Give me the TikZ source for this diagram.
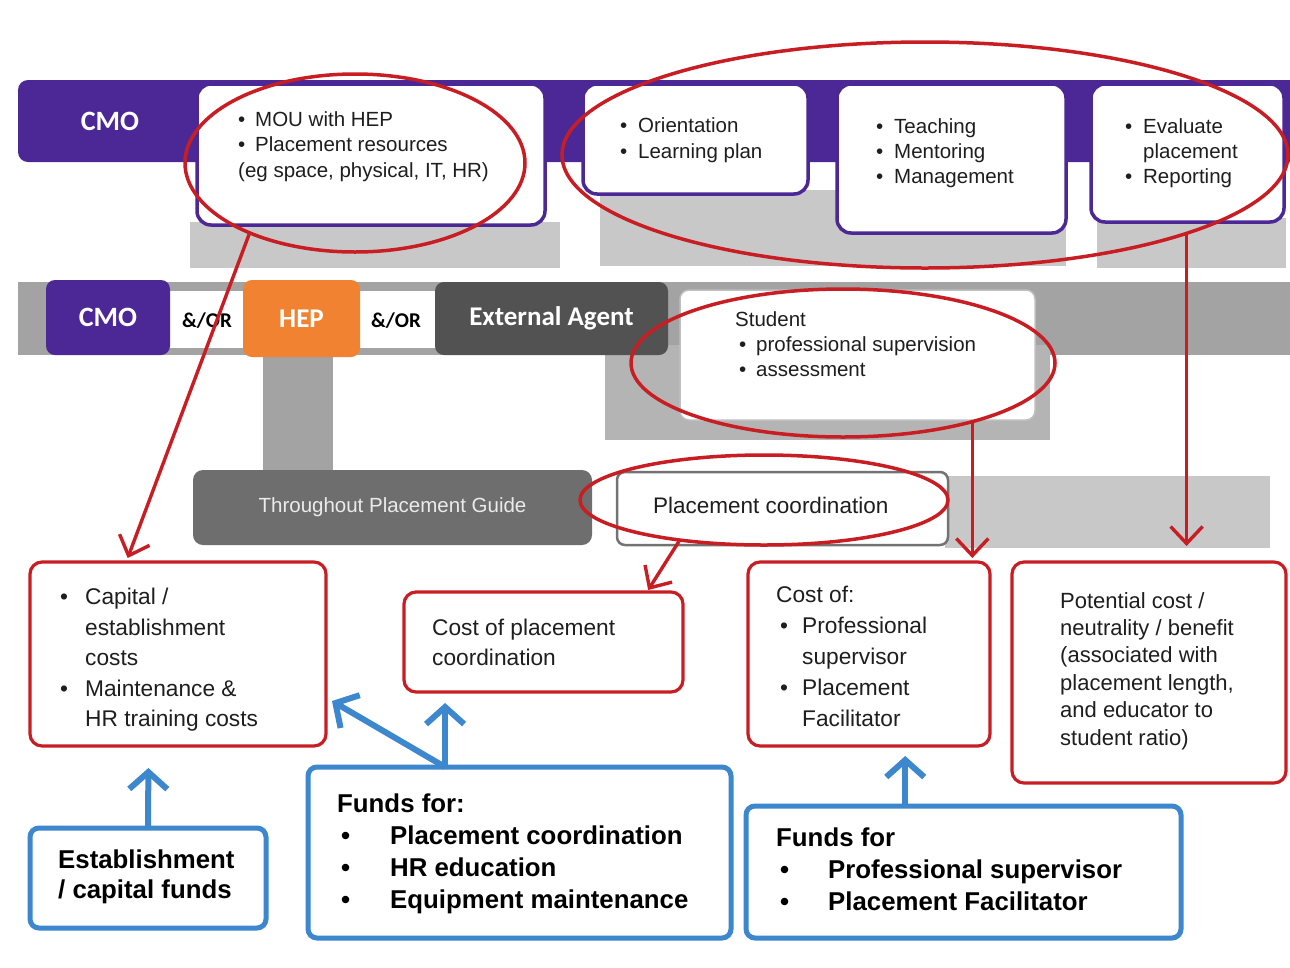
\documentclass[tikz,border=0pt]{standalone}
\usepackage{fontspec}
\setmainfont{Liberation Sans}
\newfontfamily\calfont{Carlito}
\usetikzlibrary{shapes.geometric,arrows.meta,calc}

\definecolor{cmopurple}{RGB}{76,40,150}
\definecolor{heporange}{RGB}{240,130,50}
\definecolor{agentgray}{RGB}{82,82,82}
\definecolor{guidegray}{RGB}{110,110,110}
\definecolor{bandgray}{RGB}{163,163,163}
\definecolor{shadegray}{RGB}{200,200,200}
\definecolor{deepshade}{RGB}{180,180,180}
\definecolor{ringred}{RGB}{200,30,35}
\definecolor{fundblue}{RGB}{60,135,205}
\definecolor{inkgray}{RGB}{30,30,30}

\newcommand\fsz[2]{\fontsize{#1}{#2}\selectfont}
\newcommand\bul[1]{\makebox[#1][l]{\textbullet}}

\begin{document}
\begin{tikzpicture}[x=1pt,y=-1pt,
  block/.style={anchor=north west,inner sep=0pt,outer sep=0pt},
  cmobox/.style={block,fill=cmopurple,rounded corners=9pt,text=white,font=\calfont\bfseries\fsz{28}{28}},
  hepbox/.style={block,fill=heporange,rounded corners=9pt,text=white,font=\calfont\bfseries\fsz{27}{27}},
  agentbox/.style={block,fill=agentgray,rounded corners=9pt,text=white,font=\calfont\bfseries\fsz{27}{27}},
  guidebox/.style={block,fill=guidegray,rounded corners=10pt,text=black!8,font=\fsz{20.5}{20.5}},
  topbox/.style={block,draw=cmopurple,line width=3.5pt,fill=white,rounded corners=14pt},
  plainbox/.style={block,draw=black!25,line width=1.5pt,fill=white,rounded corners=9pt},
  coordbox/.style={block,draw=black!55,line width=2.5pt,fill=white,rounded corners=8pt},
  costbox/.style={block,draw=ringred,line width=3.2pt,fill=white,rounded corners=12pt},
  fundbox/.style={block,draw=fundblue,line width=5pt,fill=white,rounded corners=9pt},
  andor/.style={inner sep=0pt,font=\calfont\bfseries\fsz{21}{21},text=black},
  txt/.style={anchor=north west,inner sep=0pt,align=left,text=inkgray},
  ring/.style={ellipse,draw=ringred,line width=3.5pt,inner sep=0pt},
  redarrow/.style={draw=ringred,line width=3.4pt,-{Straight Barb[length=17pt,width=32pt]}},
  bluearrow/.style={draw=fundblue,line width=6pt,-{Straight Barb[length=17pt,width=38pt]}}
]
\useasboundingbox (0,0) rectangle (1290,967);
\fill[white] (0,0) rectangle (1290,967);

% grey shading under the upper row
\fill[shadegray] (190,222) rectangle (560,268);
\fill[shadegray] (600,190) rectangle (1066,266);
\fill[shadegray] (1097,218) rectangle (1286,268);

% purple band of the upper row
\fill[cmopurple,rounded corners=10pt] (18,80) rectangle (1320,162);

% grey band of the middle row
\fill[bandgray] (18,282) rectangle (1320,355);
\fill[white] (165,291) rectangle (440,348);
\fill[deepshade] (605,345) rectangle (1050,440);
\fill[bandgray] (263,350) rectangle (333,475);

% grey band of the lower row
\fill[shadegray] (945,476) rectangle (1270,548);

% upper row
\node[text=white,font=\calfont\bfseries\fsz{28}{28}] (cmo1) at (110,121) {CMO};
\node[topbox,minimum width=348pt,minimum height=141pt] (mou) at (197,84) {};
\node[topbox,minimum width=225pt,minimum height=110pt] (orient) at (583,84) {};
\node[topbox,minimum width=229pt,minimum height=149pt] (teach) at (837,84) {};
\node[topbox,minimum width=193pt,minimum height=138pt] (evalb) at (1091,84) {};

\node[txt,font=\fsz{20.5}{25.5}] (moutxt) at (238,111)
  {\bul{17pt}MOU with HEP\\\bul{17pt}Placement resources\\(eg space, physical, IT, HR)};
\node[txt,font=\fsz{20.5}{26}] (orienttxt) at (620,117)
  {\bul{18pt}Orientation\\\bul{18pt}Learning plan};
\node[txt,font=\fsz{20.5}{25}] (teachtxt) at (876,118)
  {\bul{18pt}Teaching\\\bul{18pt}Mentoring\\\bul{18pt}Management};
\node[txt,font=\fsz{20.5}{25}] (evaltxt) at (1125,118)
  {\bul{18pt}Evaluate\\\hspace*{18pt}placement\\\bul{18pt}Reporting};

% middle row
\node[cmobox,minimum width=124pt,minimum height=75pt] (cmo2) at (46,280) {CMO};
\node[andor] (or1) at (207,321) {\&/OR};
\node[hepbox,minimum width=117pt,minimum height=77pt] (hep) at (243,280) {HEP};
\node[andor] (or2) at (396,321) {\&/OR};
\node[agentbox,minimum width=233pt,minimum height=73pt] (agent) at (435,282) {External Agent};
\node[plainbox,minimum width=355pt,minimum height=130pt] (student) at (680,290) {};
\node[txt,font=\fsz{20.5}{25}] (studenttxt) at (735,311)
  {Student\\\hspace*{4pt}\bul{17pt}professional supervision\\\hspace*{4pt}\bul{17pt}assessment};

% lower row
\node[guidebox,minimum width=399pt,minimum height=75pt] (guide) at (193,470) {Throughout Placement Guide};
\node[coordbox,minimum width=331pt,minimum height=73pt] (coord) at (617,472) {};
\node[anchor=west,inner sep=0pt,font=\fsz{22.5}{22.5},text=inkgray] (coordtxt) at (653,505) {Placement coordination};

% cost boxes
\node[costbox,minimum width=296pt,minimum height=184pt] (capcost) at (30,562) {};
\node[costbox,minimum width=279pt,minimum height=100pt] (pccost) at (404,592) {};
\node[costbox,minimum width=242pt,minimum height=184pt] (supcost) at (748,562) {};
\node[costbox,minimum width=274pt,minimum height=221pt] (potcost) at (1012,562) {};

\node[txt,font=\fsz{22.7}{30.5}] (capcosttxt) at (60,588)
  {\bul{25pt}Capital /\\\hspace*{25pt}establishment\\\hspace*{25pt}costs\\\bul{25pt}Maintenance \&\\\hspace*{25pt}HR training costs};
\node[txt,font=\fsz{22.7}{30}] (pccosttxt) at (432,619)
  {Cost of placement\\coordination};
\node[txt,font=\fsz{22.7}{31}] (supcosttxt) at (776,586)
  {Cost of:\\\hspace*{4pt}\bul{22pt}Professional\\\hspace*{26pt}supervisor\\\hspace*{4pt}\bul{22pt}Placement\\\hspace*{26pt}Facilitator};
\node[txt,font=\fsz{22}{27.4}] (potcosttxt) at (1060,592)
  {Potential cost /\\neutrality / benefit\\(associated with\\placement length,\\and educator to\\student ratio)};

% funding boxes
\node[fundbox,minimum width=236pt,minimum height=100pt] (capfund) at (30,828) {};
\node[fundbox,minimum width=423pt,minimum height=171pt] (pcfund) at (308,767) {};
\node[fundbox,minimum width=435pt,minimum height=132pt] (supfund) at (746,806) {};

\node[txt,font=\bfseries\fsz{25.8}{30},text=black] (capfundtxt) at (58,850)
  {Establishment\\/ capital funds};
\node[txt,font=\bfseries\fsz{25.8}{32},text=black] (pcfundtxt) at (337,794)
  {Funds for:\\\hspace*{4pt}\bul{49pt}Placement coordination\\\hspace*{4pt}\bul{49pt}HR education\\\hspace*{4pt}\bul{49pt}Equipment maintenance};
\node[txt,font=\bfseries\fsz{25.8}{32},text=black] (supfundtxt) at (776,828)
  {Funds for\\\hspace*{4pt}\bul{48pt}Professional supervisor\\\hspace*{4pt}\bul{48pt}Placement Facilitator};

% red rings
\node[ring,minimum width=340pt,minimum height=178pt] (ring1) at (355,163) {};
\node[ring,minimum width=726pt,minimum height=226pt] (ring2) at (925,155) {};
\node[ring,minimum width=424pt,minimum height=148pt] (ring3) at (843,363) {};
\node[ring,minimum width=368pt,minimum height=90pt] (ring4) at (764,500) {};

% red connectors
\draw[redarrow] (ring1.214) -- ($(capcost.north west)!0.33!(capcost.north east)+(0,-4)$);
\draw[redarrow] (ring4.206) -- ($(pccost.north west)!0.875!(pccost.north east)+(0,-2)$);
\coordinate (suptip) at ($(supcost.north west)!0.917!(supcost.north east)+(0,-4)$);
\draw[redarrow] (ring3.335) -- (ring3.335 |- suptip);
\coordinate (pottip) at (1183,546);
\draw[redarrow] (ring2.343) -- (ring2.343 |- pottip);

% blue connectors
\draw[bluearrow] (capfund.north) -- ($(capcost.south west)!0.4!(capcost.south east)+(0,22)$);
\coordinate (pcsrc) at ($(pcfund.north west)!0.324!(pcfund.north east)$);
\draw[bluearrow] (pcsrc) -- ($(pcsrc |- pccost.south)+(0,11)$);
\draw[bluearrow] (pcsrc) -- ($(capcost.south east)+(6,-45)$);
\coordinate (supsrc) at ($(supfund.north west)!0.366!(supfund.north east)$);
\draw[bluearrow] (supsrc) -- ($(supsrc |- supcost.south)+(0,10)$);
\end{tikzpicture}
\end{document}
